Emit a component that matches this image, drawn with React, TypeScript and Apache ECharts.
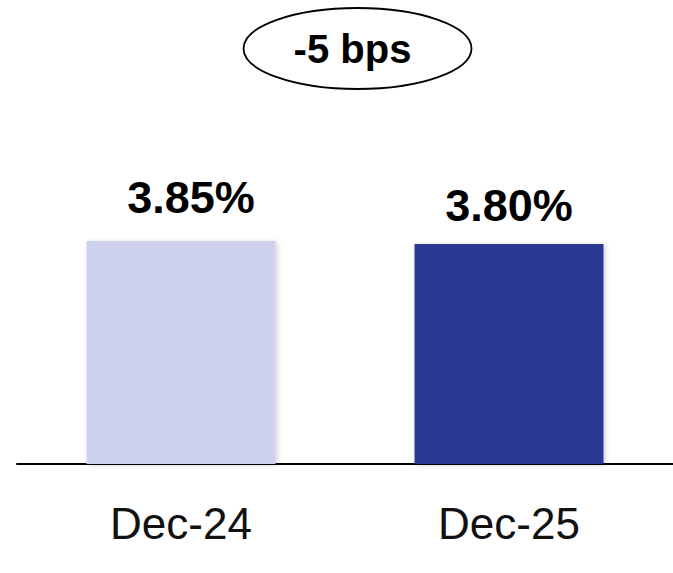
import React, { useEffect, useRef } from "react";
import * as echarts from "echarts";

const categories = ["Dec-24", "Dec-25"];
const values = [3.85, 3.8];
const barColors = ["#CDD1EE", "#293994"];
const changeLabel = "-5 bps";

export default function App() {
  const ref = useRef<HTMLDivElement>(null);
  useEffect(() => {
    document.body.style.margin = "0";
    const chart = echarts.init(ref.current!, null, { renderer: "svg" });
    chart.setOption({
      animation: false,
      backgroundColor: "#ffffff",
      grid: { left: 17, right: 0, top: 174.4, bottom: 109, containLabel: false },
      xAxis: {
        type: "category",
        data: categories,
        axisLine: { show: true, lineStyle: { color: "#000", width: 2 } },
        axisTick: { show: false },
        axisLabel: {
          color: "#111",
          fontFamily: "Liberation Sans, Arial, sans-serif",
          fontSize: 44,
          margin: 37,
        },
      },
      yAxis: {
        type: "value",
        min: 0,
        max: 5,
        show: false,
        splitLine: { show: false },
      },
      series: [
        {
          type: "bar",
          barWidth: 189,
          data: values.map((v, i) => ({
            value: v,
            itemStyle: {
              color: barColors[i],
              shadowBlur: 5,
              shadowColor: "rgba(0,0,0,0.18)",
              shadowOffsetX: 2,
              shadowOffsetY: 1,
            },
            label: { offset: i === 0 ? [10, -5] : [0, 0] },
          })),
          label: {
            show: true,
            position: "top",
            distance: 16,
            formatter: (p: any) => p.value.toFixed(2) + "%",
            color: "#000",
            fontWeight: "bold",
            fontSize: 45,
            fontFamily: "Liberation Sans, Arial, sans-serif",
          },
        },
      ],
      graphic: [
        {
          type: "ellipse",
          shape: { cx: 357.5, cy: 48.5, rx: 114, ry: 40.5 },
          style: { fill: "#fff", stroke: "#000", lineWidth: 1.8 },
          z: 10,
        },
        {
          type: "text",
          x: 352.5,
          y: 49,
          style: {
            text: changeLabel,
            fill: "#000",
            font: "bold 40px 'Liberation Sans', Arial, sans-serif",
            textAlign: "center",
            textVerticalAlign: "middle",
          },
          z: 11,
        },
      ],
    });
    return () => chart.dispose();
  }, []);
  return <div ref={ref} style={{ width: 673, height: 573 }} />;
}
